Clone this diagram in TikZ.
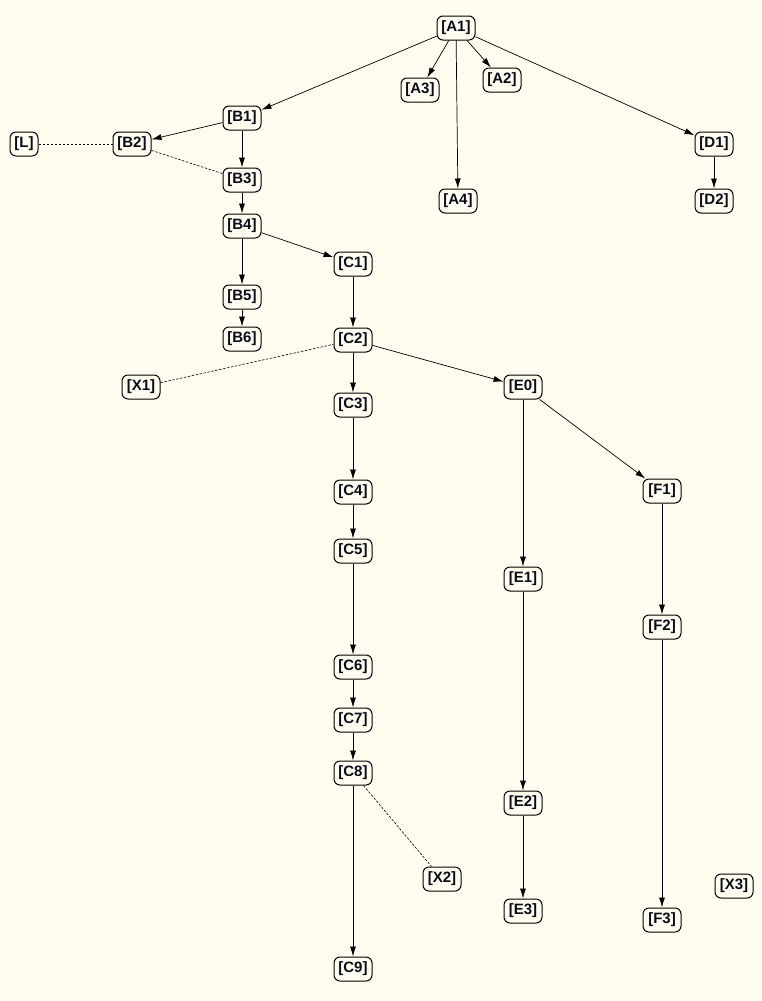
\documentclass[tikz,border=0pt]{standalone}
\usepackage{fontspec}
\setmainfont{Liberation Sans}
\usetikzlibrary{arrows.meta}
\definecolor{bg}{HTML}{FFFDF0}
\definecolor{txt}{HTML}{0A0A18}
\begin{document}
\begin{tikzpicture}[x=1pt,y=-1pt,
  nd/.style={draw, rounded corners=6pt, fill=bg, line width=1pt, minimum width=38pt, minimum height=24pt, inner sep=2pt, text=txt, font=\fontsize{15}{17}\selectfont\bfseries},
  arr/.style={-{Latex[length=10pt,width=6pt]}, line width=0.7pt},
  dsh/.style={dashed, dash pattern=on 2.5pt off 1.5pt, line width=0.6pt}]
\fill[bg] (0,0) rectangle (762,1001);
\useasboundingbox (0,0) rectangle (762,1001);
\node[nd] (A1) at (456,28) {[A1]};
\node[nd] (A3) at (420,90) {[A3]};
\node[nd] (A2) at (502,80) {[A2]};
\node[nd] (A4) at (458,201) {[A4]};
\node[nd] (D1) at (714,144) {[D1]};
\node[nd] (D2) at (714,201) {[D2]};
\node[nd] (B1) at (242,118) {[B1]};
\node[nd] (B2) at (132,144) {[B2]};
\node[nd, minimum width=28pt] (L) at (24,144) {[L]};
\node[nd] (B3) at (242,180) {[B3]};
\node[nd] (B4) at (242,226) {[B4]};
\node[nd] (C1) at (353,264) {[C1]};
\node[nd] (B5) at (242,297) {[B5]};
\node[nd] (B6) at (242,339) {[B6]};
\node[nd] (C2) at (353,340) {[C2]};
\node[nd] (X1) at (141,387) {[X1]};
\node[nd] (C3) at (353,405) {[C3]};
\node[nd] (E0) at (523,387) {[E0]};
\node[nd] (F1) at (662,491) {[F1]};
\node[nd] (C4) at (353,492) {[C4]};
\node[nd] (C5) at (353,551) {[C5]};
\node[nd] (E1) at (523,579) {[E1]};
\node[nd] (F2) at (662,627) {[F2]};
\node[nd] (C6) at (353,667) {[C6]};
\node[nd] (C7) at (353,720) {[C7]};
\node[nd] (C8) at (353,773) {[C8]};
\node[nd] (E2) at (523,803) {[E2]};
\node[nd] (X2) at (442,879) {[X2]};
\node[nd] (X3) at (734,886) {[X3]};
\node[nd] (E3) at (523,911) {[E3]};
\node[nd] (F3) at (662,920) {[F3]};
\node[nd] (C9) at (353,969) {[C9]};
\foreach \a/\b in {A1/B1,A1/A3,A1/A2,A1/A4,A1/D1,D1/D2,B1/B2,B1/B3,B3/B4,B4/B5,B5/B6,B4/C1,C1/C2,C2/C3,C2/E0,C3/C4,C4/C5,C5/C6,C6/C7,C7/C8,C8/C9,E0/E1,E1/E2,E2/E3,E0/F1,F1/F2,F2/F3}
  \draw[arr] (\a) -- (\b);
\foreach \a/\b in {L/B2,B2/B3,X1/C2,C8/X2}
  \draw[dsh] (\a) -- (\b);
\end{tikzpicture}
\end{document}
